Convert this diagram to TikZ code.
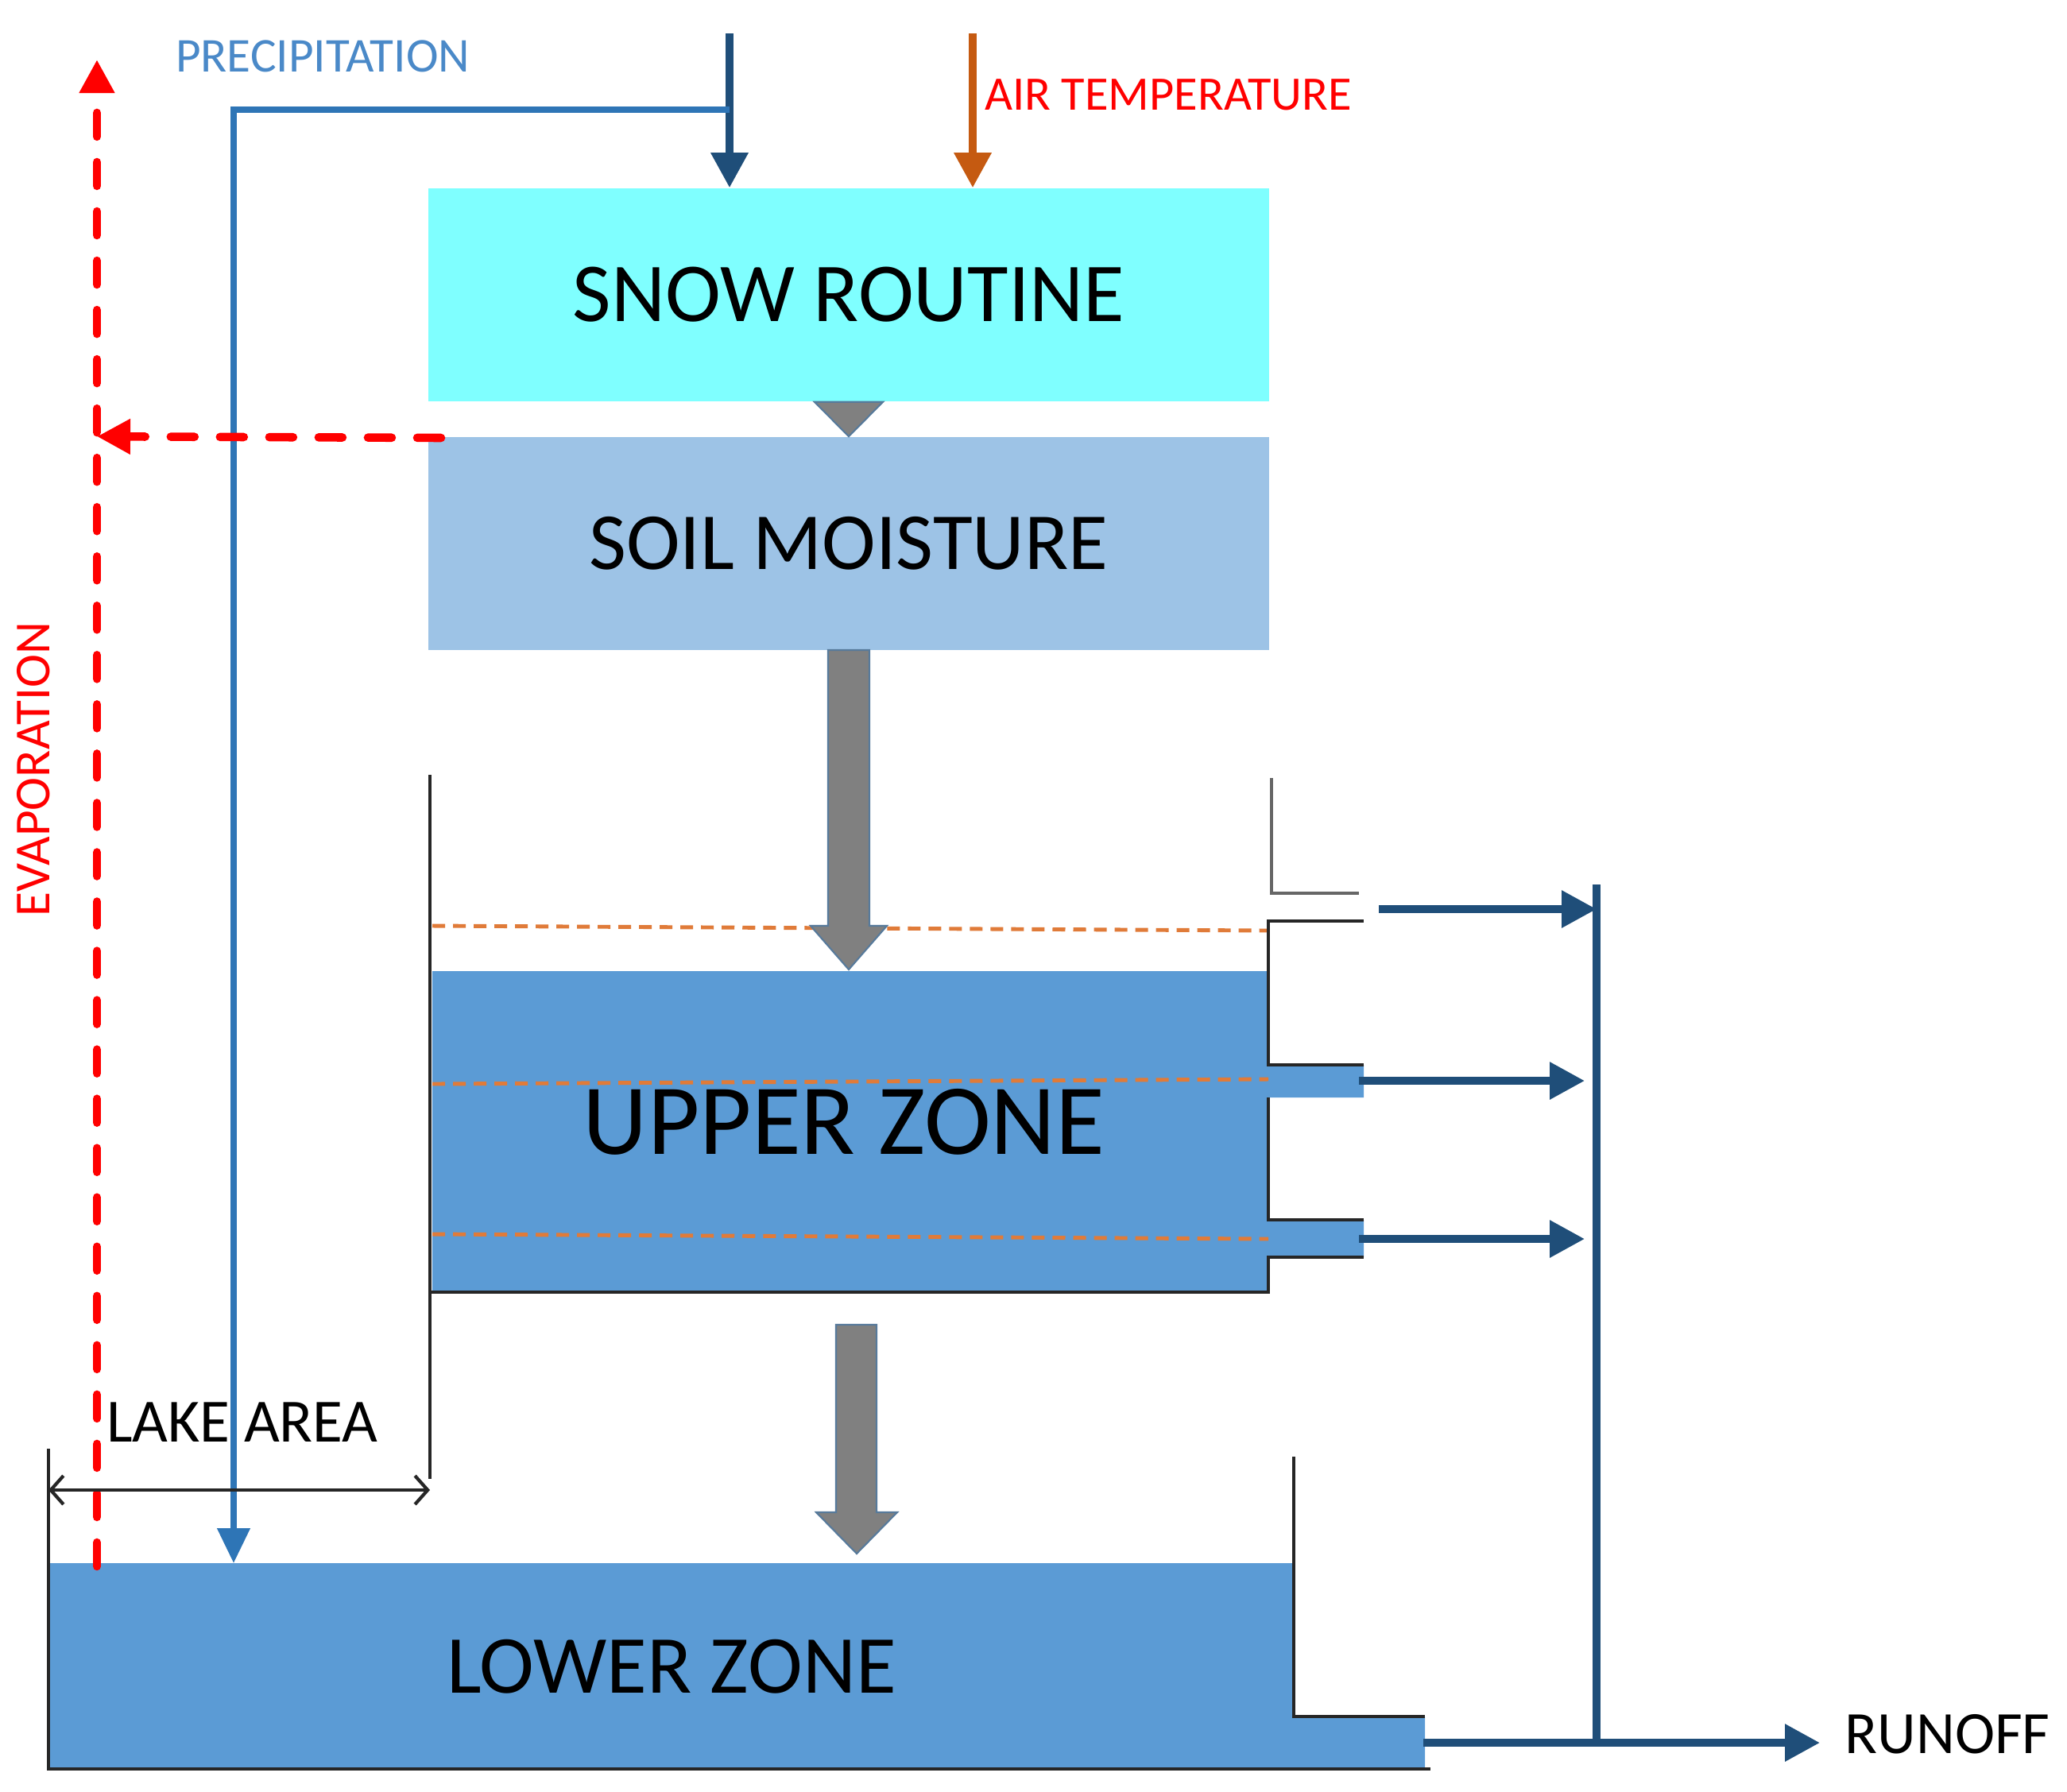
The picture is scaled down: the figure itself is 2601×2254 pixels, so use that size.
\documentclass[tikz,border=0pt]{standalone}
\usepackage{fontspec}
\setmainfont{Carlito}
\usetikzlibrary{arrows.meta,calc}
\definecolor{snowcyan}{HTML}{7FFFFF}
\definecolor{soilblue}{HTML}{9DC3E6}
\definecolor{zoneblue}{HTML}{5B9BD5}
\definecolor{flowblue}{HTML}{1F4E79}
\definecolor{rainblue}{HTML}{2E75B6}
\definecolor{raintext}{HTML}{4A89C8}
\definecolor{tempbrown}{HTML}{C55A11}
\definecolor{levelorange}{HTML}{E07B39}
\definecolor{wallgray}{HTML}{262626}
\begin{document}
\begin{tikzpicture}[x=0.01cm,y=-0.01cm,
  box/.style={minimum width=10.58cm,minimum height=2.68cm,inner sep=0pt},
  lbl/.style={inner sep=0pt},
  flow/.style={flowblue,line width=2.7pt,-{Triangle[length=0.44cm,width=0.45cm]}},
  evap/.style={red,line width=3pt,dash pattern=on 0.3cm off 0.32cm,line cap=round,
    -{Triangle[length=0.42cm,width=0.42cm]}},
  level/.style={levelorange,line width=1.4pt,dash pattern=on 0.16cm off 0.1cm},
  wall/.style={wallgray,line width=1.2pt},
  grayarr/.style={fill=gray,draw=rainblue!50!gray,line width=0.6pt}]
  \useasboundingbox (0,0) rectangle (2601,2254);
  % storage boxes
  \node[box,fill=snowcyan,font=\fontsize{30}{36}\selectfont] (snow) at (1068,371) {SNOW ROUTINE};
  \node[box,fill=soilblue,font=\fontsize{29}{35}\selectfont] (soil) at (1068,684) {SOIL MOISTURE};
  % upper zone
  \fill[zoneblue] (544,1222) rectangle (1596,1626);
  \fill[zoneblue] (1596,1340) rectangle (1716,1381) (1596,1535) rectangle (1716,1582);
  \foreach \a/\b in {1165/1171,1364/1358,1553/1559} \draw[level] (544,\a) -- (1596,\b);
  \node[lbl,font=\fontsize{36}{43}\selectfont] (upper) at (1062,1412) {UPPER ZONE};
  \draw[wall] (541,975) -- (541,1861);
  \draw[wall] (541,1626) -- (1596,1626) -- (1596,1582) -- (1716,1582);
  \draw[wall] (1716,1535) -- (1596,1535) -- (1596,1381);
  \draw[wall] (1716,1340) -- (1596,1340) -- (1596,1159) -- (1716,1159);
  \draw[wall,gray!80!black] (1600,979) -- (1600,1124) -- (1710,1124);
  % lower zone
  \fill[zoneblue] (61,1967) rectangle (1628,2226) (1628,2160) rectangle (1793,2226);
  \node[lbl,font=\fontsize{29.5}{35}\selectfont] (lower) at (845,2097) {LOWER ZONE};
  \draw[wall] (61,1823) -- (61,2226) -- (1800,2226);
  \draw[wall] (1628,1833) -- (1628,2160) -- (1793,2160);
  % grey transfer arrows
  \filldraw[grayarr] ($(snow.south)+(-43,0)$) -- ($(snow.south)+(43,0)$) -- (soil.north) -- cycle;
  \filldraw[grayarr] (1042,818) -- (1042,1165) -- (1020,1165) -- (1068,1220)
    -- (1116,1165) -- (1094,1165) -- (1094,818) -- cycle;
  \filldraw[grayarr] (1052,1667) -- (1052,1903) -- (1027,1903) -- (1078,1955)
    -- (1129,1903) -- (1103,1903) -- (1103,1667) -- cycle;
  % inputs
  \coordinate (rain) at (918,42);
  \coordinate (temp) at (1224,42);
  \coordinate (split) at (918,138);
  \coordinate (lake) at (294,1967);
  \draw[flow] (rain) -- (rain |- snow.north);
  \draw[flow,tempbrown] (temp) -- (temp |- snow.north);
  \draw[rainblue,line width=2.2pt,-{Triangle[length=0.44cm,width=0.4cm]}] (split) -| (lake);
  % evaporation
  \coordinate (evtop) at (122,75);
  \coordinate (evbot) at (122,1971);
  \draw[evap] (evbot) -- (evtop);
  \draw[evap] (555,551) -- (evbot |- soil.north);
  % lake area
  \coordinate (la) at (61,1875);
  \coordinate (lb) at (541,1875);
  \draw[wallgray,line width=1.2pt,{Straight Barb[length=0.16cm,width=0.36cm]}-{Straight Barb[length=0.16cm,width=0.36cm]}] (la) -- (lb);
  % outflow
  \coordinate (col) at (2009,1113);
  \coordinate (out) at (2009,2193);
  \draw[flowblue,line width=2.7pt] (col) -- (out);
  \draw[flow] (1735,1144) -- (col |- 0,1144);
  \foreach \y in {1360,1559} \draw[flow] (1710,\y) -- (1994,\y);
  \draw[flow] (1791,2193) -- (2290,2193);
  % labels
  \node[lbl,text=raintext,font=\fontsize{17.4}{20}\selectfont] (ptext) at (406,71) {PRECIPITATION};
  \node[lbl,text=red,font=\fontsize{17.2}{20}\selectfont] (ttext) at (1470,119) {AIR TEMPERATURE};
  \node[lbl,text=red,rotate=90,font=\fontsize{18}{21}\selectfont] (etext) at (42,968) {EVAPORATION};
  \node[lbl,font=\fontsize{22}{26}\selectfont] (ltext) at (305,1790) {LAKE AREA};
  \node[lbl,anchor=west,font=\fontsize{21.5}{26}\selectfont] (rtext) at (2321,2182) {RUNOFF};
\end{tikzpicture}
\end{document}
